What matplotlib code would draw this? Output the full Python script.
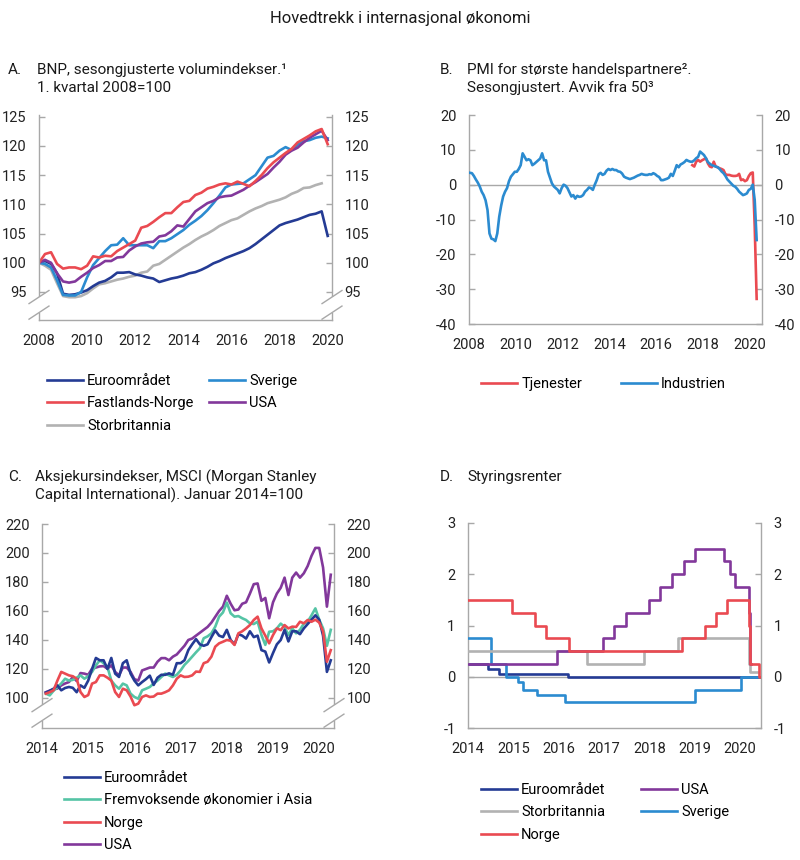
import numpy as np
import matplotlib
matplotlib.use("Agg")
import matplotlib.pyplot as plt
from matplotlib.lines import Line2D
from matplotlib.patches import Rectangle

plt.rcParams['font.family'] = ['Roboto', 'DejaVu Sans']
plt.rcParams['axes.unicode_minus'] = False

# ---------------- colours ----------------
C_EURO = '#243b94'
C_SWE = '#2b8bd0'
C_RED = '#ea4a51'
C_USA = '#82389b'
C_UK = '#b2b2b2'
C_ASIA = '#55c4a5'
GREY = '#a8a8a8'

# ---------------- Panel A: BNP (quarterly, 2008Q1 = 100) ----------------
a_quarters = 2008 + np.arange(49) * 0.25
a_euro = [100.0, 100.3, 99.8, 98.2, 94.7, 94.5, 94.6, 94.9, 95.3, 96.0, 96.6, 96.9,
          97.5, 98.3, 98.3, 98.4, 98.0, 97.8, 97.5, 97.3, 96.7, 97.0, 97.3, 97.5,
          97.8, 98.2, 98.4, 98.8, 99.3, 99.9, 100.3, 100.8, 101.2, 101.6, 102.0, 102.5,
          103.2, 104.0, 104.8, 105.6, 106.4, 106.8, 107.1, 107.4, 107.8, 108.2, 108.4, 108.8,
          104.6]
a_norge = [100.0, 101.5, 101.8, 99.8, 99.0, 99.2, 99.2, 98.9, 99.5, 101.1, 100.9, 101.2,
           101.1, 102.0, 102.6, 103.2, 103.8, 106.0, 106.3, 107.0, 107.8, 108.5, 108.5, 109.5,
           110.4, 110.6, 111.6, 112.0, 112.7, 113.0, 113.4, 113.6, 113.4, 113.9, 113.5, 113.1,
           114.0, 115.0, 116.2, 117.2, 118.0, 118.8, 119.5, 120.6, 121.2, 121.8, 122.5, 122.9,
           120.3]
a_sverige = [100.0, 99.8, 99.2, 97.0, 94.5, 94.4, 94.4, 95.0, 97.5, 99.6, 100.8, 102.0,
             103.0, 103.1, 104.2, 103.0, 103.0, 103.0, 103.0, 102.5, 103.7, 103.7, 104.2, 104.9,
             105.6, 106.5, 107.2, 108.0, 109.0, 110.2, 111.5, 112.9, 113.4, 113.5, 113.6, 114.3,
             115.0, 116.5, 118.0, 118.3, 119.2, 119.8, 119.3, 120.2, 120.8, 121.0, 121.4, 121.6,
             121.3]
a_usa = [100.0, 100.5, 100.0, 98.2, 96.8, 96.6, 96.8, 97.6, 98.3, 99.1, 99.6, 100.3,
         100.3, 100.9, 101.0, 102.1, 102.8, 103.3, 103.5, 103.6, 104.5, 104.7, 105.4, 106.4,
         106.2, 107.5, 108.8, 109.5, 110.2, 110.6, 111.2, 111.4, 111.5, 112.0, 112.5, 113.2,
         113.8, 114.5, 115.2, 116.3, 117.3, 118.5, 119.2, 119.7, 120.6, 121.4, 122.0, 122.6,
         121.0]
a_uk = [100.0, 99.5, 98.8, 96.5, 94.3, 94.1, 94.1, 94.3, 94.8, 95.6, 96.3, 96.5,
        96.8, 97.1, 97.3, 97.6, 97.8, 98.3, 98.5, 99.5, 99.8, 100.5, 101.2, 101.9,
        102.6, 103.2, 103.9, 104.5, 105.0, 105.6, 106.3, 106.8, 107.3, 107.6, 108.2, 108.8,
        109.3, 109.7, 110.2, 110.5, 110.8, 111.2, 111.8, 112.2, 112.8, 112.9, 113.3, 113.6]

# ---------------- Panel B: PMI (monthly, deviation from 50) ----------------
b_industri = [3.4, 3.3, 2.5, 1.5, 0.6, -0.5, -2.0, -3.0, -4.5, -7.3, -14.0, -15.5,
              -15.7, -16.2, -14.0, -9.2, -6.0, -3.4, -2.0, -1.0, 1.0, 2.3, 3.0, 3.7,
              3.7, 4.5, 5.6, 9.0, 8.0, 7.0, 7.3, 7.0, 5.6, 6.0, 6.5, 7.0,
              7.5, 9.0, 7.0, 7.0, 3.7, 2.0, 0.4, -0.5, -1.0, -1.5, -2.5, -1.0,
              0.0, -0.3, -1.0, -2.2, -3.4, -3.0, -4.0, -3.2, -3.5, -3.4, -3.0, -2.0,
              -1.5, -0.8, -1.0, -1.5, 0.0, 1.3, 3.0, 3.4, 2.8, 3.1, 4.0, 4.5,
              4.2, 4.5, 4.2, 4.2, 3.8, 3.7, 3.2, 2.3, 2.0, 1.8, 1.6, 1.8,
              2.0, 2.3, 2.6, 2.8, 3.1, 2.9, 2.8, 2.8, 3.0, 2.9, 3.3, 3.0,
              2.5, 2.2, 1.3, 1.3, 1.5, 1.7, 2.0, 3.1, 2.5, 4.0, 5.6, 5.0,
              5.8, 6.1, 6.5, 7.1, 6.8, 6.6, 6.6, 7.0, 7.6, 8.0, 9.5, 9.0,
              8.5, 7.6, 6.5, 6.0, 5.6, 5.4, 5.2, 5.0, 4.5, 3.8, 3.3, 2.5,
              1.5, 0.9, 0.3, -0.3, -0.6, -1.2, -2.0, -2.5, -3.0, -2.8, -2.5, -1.5,
              -1.2, 0.0, -4.4, -15.9]
b_tjenester = [5.6, 5.2, 6.6, 7.1, 6.6, 7.0,
               7.3, 7.6, 6.1, 5.2, 5.0, 6.6, 5.2, 5.0, 4.7, 4.5, 4.2, 3.0,
               2.8, 2.8, 2.6, 2.5, 2.5, 2.6, 3.1, 1.3, 1.5, 1.0, 1.3, 2.5,
               3.3, 3.5, -12.0, -32.8]
b_months = 2008 + (np.arange(len(b_industri)) + 0.5) / 12
b_months_tj = b_months[-len(b_tjenester):]

# ---------------- Panel C: MSCI (monthly, Jan 2014 = 100) ----------------
c_euro = [103.7, 105.0, 106.4, 108.7, 105.3, 106.9, 107.6, 107.0, 104.0, 108.7, 107.0,
          112.0, 120.0, 127.6, 126.0, 126.0, 120.0, 127.6, 116.8, 114.5, 124.0, 126.0, 116.8,
          112.0, 108.7, 111.0, 113.0, 115.4, 109.0, 114.0, 116.0, 116.0, 117.0, 116.0, 124.0,
          124.0, 126.0, 133.0, 137.0, 140.6, 137.0, 136.0, 137.0, 142.0, 146.6, 143.0, 142.0,
          147.0, 140.0, 137.0, 144.0, 143.0, 141.0, 146.0, 142.0, 143.0, 133.0, 132.0, 124.5,
          131.0, 137.0, 140.0, 147.0, 139.0, 146.0, 146.0, 144.0, 148.0, 151.0, 154.0, 157.0,
          154.0, 143.0, 118.0, 126.0]
c_asia = [103.0, 101.8, 105.0, 107.5, 110.0, 113.3, 112.0, 112.5, 114.0, 115.6, 113.3,
          115.0, 118.0, 122.5, 126.0, 124.0, 121.4, 112.0, 108.7, 106.4, 109.9, 108.7, 103.0,
          100.7, 99.5, 105.3, 106.4, 107.6, 110.0, 112.0, 114.5, 116.8, 115.6, 114.5, 116.0,
          119.0, 122.8, 125.5, 128.5, 131.5, 134.3, 141.2, 142.5, 144.6, 149.2, 156.1, 159.0,
          165.8, 158.4, 156.1, 156.5, 155.0, 153.8, 151.5, 151.0, 152.6, 143.4, 136.6, 145.7,
          146.0, 148.0, 151.3, 149.0, 143.4, 148.0, 144.6, 147.0, 151.3, 152.6, 157.0, 161.8,
          154.0, 148.0, 136.0, 147.0]
c_norge = [103.0, 104.0, 105.3, 112.0, 118.0, 116.8, 115.6, 115.0, 113.3, 104.1, 100.7,
           102.0, 109.9, 111.0, 115.6, 115.6, 114.0, 112.0, 104.1, 100.7, 106.4, 105.3, 101.0,
           95.0, 96.1, 100.7, 101.8, 100.7, 101.0, 103.0, 103.0, 104.0, 105.3, 108.7, 113.3,
           115.6, 114.5, 114.7, 115.6, 118.2, 118.0, 124.0, 125.0, 128.5, 135.4, 137.7, 138.8,
           140.0, 139.5, 136.6, 144.6, 146.0, 148.0, 150.3, 153.8, 156.1, 148.0, 143.0, 137.7,
           143.4, 148.0, 146.8, 150.3, 148.0, 149.2, 149.0, 152.6, 151.5, 153.8, 152.6, 154.0,
           152.0, 146.0, 125.0, 133.0]
c_usa = [104.0, 105.0, 106.0, 106.5, 108.7, 110.0, 111.0, 114.5, 111.7, 117.2, 116.8,
         116.0, 120.2, 121.0, 121.8, 122.0, 120.2, 122.5, 118.0, 115.6, 121.0, 121.0, 118.0,
         113.0, 112.0, 119.0, 120.0, 121.0, 121.0, 125.0, 127.5, 127.5, 126.0, 128.5, 130.0,
         133.0, 136.0, 140.0, 141.0, 143.0, 145.0, 147.0, 149.0, 152.0, 156.0, 160.0, 163.0,
         170.5, 165.0, 160.5, 161.0, 165.0, 166.0, 172.0, 178.5, 179.0, 167.0, 169.0, 155.0,
         166.0, 172.0, 176.0, 183.0, 171.0, 183.0, 186.5, 183.0, 186.0, 191.0, 198.0, 203.5,
         203.5, 190.0, 163.0, 185.0]
c_months = 2014 + (np.arange(len(c_usa)) + 1) / 12

# ---------------- Panel D: policy rates (change dates, new levels) ----------------
d_euro_dates = [2014.0, 2014.43, 2014.68, 2016.21, 2020.42]
d_euro_rate = [0.25, 0.15, 0.05, 0.0, 0.0]
d_swe_dates = [2014.0, 2014.5, 2014.84, 2015.11, 2015.22, 2015.52, 2016.14, 2019.01, 2020.02, 2020.42]
d_swe_rate = [0.75, 0.25, 0.0, -0.1, -0.25, -0.35, -0.5, -0.25, 0.0, 0.0]
d_uk_dates = [2014.0, 2016.62, 2017.87, 2018.63, 2020.19, 2020.22, 2020.39]
d_uk_rate = [0.5, 0.25, 0.5, 0.75, 0.25, 0.1, 0.1]
d_usa_dates = [2014.0, 2015.97, 2016.97, 2017.21, 2017.49, 2017.98, 2018.24, 2018.5, 2018.77,
               2019.01, 2019.64, 2019.78, 2019.89, 2020.19, 2020.21, 2020.23]
d_usa_rate = [0.25, 0.5, 0.75, 1.0, 1.25, 1.5, 1.75, 2.0, 2.25, 2.5, 2.25, 2.0, 1.75, 1.25, 0.25, 0.25]
d_norge_dates = [2014.0, 2014.96, 2015.47, 2015.73, 2016.22, 2018.72, 2019.22, 2019.47, 2019.72,
                 2020.2, 2020.22, 2020.41, 2020.44]
d_norge_rate = [1.5, 1.25, 1.0, 0.75, 0.5, 0.75, 1.0, 1.25, 1.5, 1.0, 0.25, 0.0, 0.0]

LW = 1.9

fig = plt.figure(figsize=(8, 8.6), dpi=100)


def px_axes(l, t, r, b):
    return fig.add_axes([l / 800, 1 - b / 860, (r - l) / 800, (b - t) / 860])


def style(ax, yticks, ylim, xticks, xlim):
    ax.spines['top'].set_visible(False)
    for s in ('left', 'right', 'bottom'):
        ax.spines[s].set_color(GREY)
        ax.spines[s].set_linewidth(1.0)
    ax.set_ylim(*ylim)
    ax.set_xlim(*xlim)
    ax.set_yticks(yticks)
    ax.set_yticklabels([str(v) for v in yticks])
    ax.set_xticks(xticks)
    ax.set_xticklabels([str(v) for v in xticks])
    ax.tick_params(axis='y', direction='in', length=4, width=1, color=GREY,
                   left=True, right=True, labelleft=True, labelright=True,
                   pad=9, labelsize=10.5, labelcolor='#222222')
    ax.tick_params(axis='x', length=0, pad=10, labelsize=10.5, labelcolor='#222222')
    ax.patch.set_visible(False)


def add_breaks(ax):
    dx, dy = 0.034, 0.032
    for xs in (0.0, 1.0):
        ax.add_patch(Rectangle((xs - 0.006, 0.036), 0.012, 0.076, transform=ax.transAxes,
                               facecolor='white', edgecolor='none', clip_on=False, zorder=5))
        for yc in (0.036, 0.112):
            ax.add_line(Line2D([xs - dx, xs + dx], [yc - dy, yc + dy], transform=ax.transAxes,
                               color=GREY, lw=1.0, clip_on=False, zorder=6))


# ---------------- Panel A ----------------
axA = px_axes(39, 115, 332, 320)
style(axA, [95, 100, 105, 110, 115, 120, 125], (90.2, 125.3),
      [2008, 2010, 2012, 2014, 2016, 2018, 2020], (2008.0, 2020.18))
axA.plot(a_quarters[:len(a_uk)], a_uk, color=C_UK, lw=LW)
axA.plot(a_quarters, a_euro, color=C_EURO, lw=LW)
axA.plot(a_quarters, a_sverige, color=C_SWE, lw=LW)
axA.plot(a_quarters, a_usa, color=C_USA, lw=LW)
axA.plot(a_quarters, a_norge, color=C_RED, lw=LW)
add_breaks(axA)

# ---------------- Panel B ----------------
axB = px_axes(469, 115, 762, 324)
style(axB, [-40, -30, -20, -10, 0, 10, 20], (-40, 20),
      [2008, 2010, 2012, 2014, 2016, 2018, 2020], (2008.03, 2020.52))
axB.axhline(0, color=GREY, lw=1.0, zorder=1)
axB.plot(b_months_tj, b_tjenester, color=C_RED, lw=LW, zorder=2)
axB.plot(b_months, b_industri, color=C_SWE, lw=LW, zorder=3)

# ---------------- Panel C ----------------
axC = px_axes(42, 524, 334, 728)
style(axC, [100, 120, 140, 160, 180, 200, 220], (79.3, 220),
      [2014, 2015, 2016, 2017, 2018, 2019, 2020], (2014.04, 2020.32))
axC.plot(c_months, c_usa, color=C_USA, lw=LW)
axC.plot(c_months, c_asia, color=C_ASIA, lw=LW)
axC.plot(c_months, c_euro, color=C_EURO, lw=LW)
axC.plot(c_months, c_norge, color=C_RED, lw=LW)
add_breaks(axC)

# ---------------- Panel D ----------------
axD = px_axes(468, 523, 761, 728)
style(axD, [-1, 0, 1, 2, 3], (-1, 3),
      [2014, 2015, 2016, 2017, 2018, 2019, 2020], (2014.0, 2020.46))
axD.axhline(0, color=GREY, lw=1.0, zorder=1)
axD.step(d_euro_dates, d_euro_rate, where='post', color=C_EURO, lw=LW, zorder=2)
axD.step(d_swe_dates, d_swe_rate, where='post', color=C_SWE, lw=LW, zorder=3)
axD.step(d_uk_dates, d_uk_rate, where='post', color=C_UK, lw=LW, zorder=4)
axD.step(d_usa_dates, d_usa_rate, where='post', color=C_USA, lw=LW, zorder=5)
axD.step(d_norge_dates, d_norge_rate, where='post', color=C_RED, lw=LW, zorder=6)

# ---------------- titles ----------------
TXT = '#1a1a1a'
fig.text(0.5, 1 - 18 / 860, 'Hovedtrekk i internasjonal økonomi', ha='center', va='center',
         fontsize=12, color=TXT)


def panel_title(x_letter, x_text, y, letter, lines):
    fig.text(x_letter / 800, 1 - y / 860, letter, ha='left', va='center', fontsize=11, color=TXT)
    for i, ln in enumerate(lines):
        fig.text(x_text / 800, 1 - (y + 18 * i) / 860, ln, ha='left', va='center',
                 fontsize=11, color=TXT)


panel_title(8, 37, 70, 'A.', ['BNP, sesongjusterte volumindekser.¹', '1. kvartal 2008=100'])
panel_title(440, 467, 70, 'B.', ['PMI for største handelspartnere².', 'Sesongjustert. Avvik fra 50³'])
panel_title(8, 35, 477, 'C.', ['Aksjekursindekser, MSCI (Morgan Stanley',
                               'Capital International). Januar 2014=100'])
panel_title(440, 467, 477, 'D.', ['Styringsrenter'])


# ---------------- legends (one per column) ----------------
def col_legend(x, ytop, entries):
    handles = [Line2D([0], [0], color=c, lw=LW) for _, c in entries]
    labels = [l for l, _ in entries]
    fig.legend(handles, labels, loc='upper left', bbox_to_anchor=(x / 800, 1 - ytop / 860),
               frameon=False, fontsize=10.5, handlelength=2.45, handletextpad=0.3,
               labelspacing=0.58, borderpad=0, borderaxespad=0)


col_legend(47, 374, [('Euroområdet', C_EURO), ('Fastlands-Norge', C_RED), ('Storbritannia', C_UK)])
col_legend(209, 374, [('Sverige', C_SWE), ('USA', C_USA)])
col_legend(481, 377, [('Tjenester', C_RED)])
col_legend(621, 377, [('Industrien', C_SWE)])
col_legend(64, 771, [('Euroområdet', C_EURO), ('Fremvoksende økonomier i Asia', C_ASIA),
                     ('Norge', C_RED), ('USA', C_USA)])
col_legend(481, 783, [('Euroområdet', C_EURO), ('Storbritannia', C_UK), ('Norge', C_RED)])
col_legend(641, 783, [('USA', C_USA), ('Sverige', C_SWE)])

fig.savefig('out.png', dpi=100, facecolor='white')
